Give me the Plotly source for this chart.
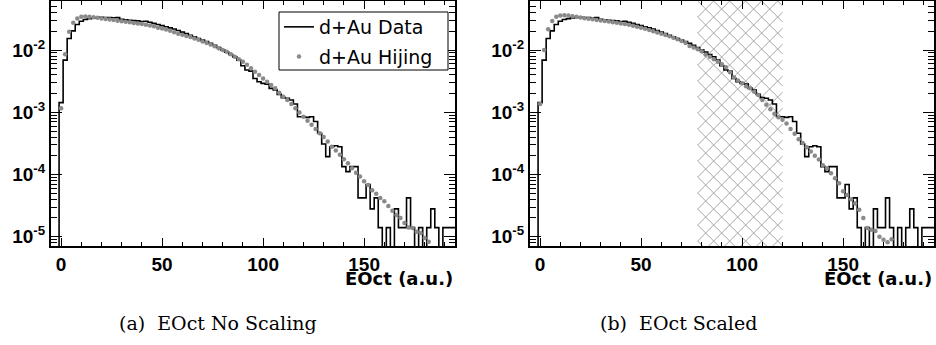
import math
import plotly.graph_objects as go

# ---------------- data ----------------
bin_width = 2
eoct_centers = list(range(-4, 196, 2))  # 100 bins, -5 .. 195

data_vals = [
    0, 0, 1.43e-3, 6.9e-3, 1.54e-2, 2.04e-2, 2.58e-2, 2.92e-2, 3.10e-2, 3.21e-2,
    3.30e-2, 3.35e-2, 3.36e-2, 3.35e-2, 3.33e-2, 3.31e-2, 3.33e-2, 3.12e-2, 3.07e-2, 3.03e-2,
    2.99e-2, 2.95e-2, 2.88e-2, 2.92e-2, 2.81e-2, 2.69e-2, 2.58e-2, 2.48e-2, 2.38e-2, 2.28e-2,
    2.19e-2, 2.07e-2, 1.95e-2, 1.84e-2, 1.73e-2, 1.64e-2, 1.54e-2, 1.45e-2, 1.37e-2, 1.29e-2,
    1.20e-2, 1.10e-2, 1.01e-2, 9.3e-3, 8.5e-3, 7.8e-3, 6.9e-3, 5.6e-3, 4.8e-3, 4.6e-3,
    3.5e-3, 3.1e-3, 2.92e-3, 2.84e-3, 2.43e-3, 2.28e-3, 1.94e-3, 1.72e-3, 1.68e-3, 1.58e-3,
    1.36e-3, 8.5e-4, 8.5e-4, 8.3e-4, 8.5e-4, 7.1e-4, 4.6e-4, 3.1e-4, 1.94e-4, 2.8e-4,
    2.9e-4, 2.8e-4, 1.34e-4, 1.11e-4, 1.34e-4, 1.34e-4, 4.2e-5, 4.2e-5, 6.9e-5, 2.8e-5,
    4.2e-5, 1.4e-5, 0, 1.4e-5, 0, 2.8e-5, 1.4e-5, 1.4e-5, 4.2e-5, 1.4e-5,
    0, 1.4e-5, 0, 1.4e-5, 2.8e-5, 1.4e-5, 0, 1.4e-5, 1.4e-5, 1.4e-5,
]

hijing_a_x = list(range(0, 184, 2))
hijing_a_vals = [
    1.16e-3, 8.6e-3, 1.97e-2, 2.75e-2, 3.23e-2, 3.43e-2, 3.47e-2, 3.43e-2, 3.39e-2, 3.31e-2,
    3.24e-2, 3.17e-2, 3.10e-2, 3.04e-2, 2.98e-2, 2.92e-2, 2.86e-2, 2.80e-2, 2.74e-2, 2.69e-2,
    2.63e-2, 2.57e-2, 2.50e-2, 2.43e-2, 2.30e-2, 2.22e-2, 2.15e-2, 2.05e-2, 1.94e-2, 1.84e-2,
    1.77e-2, 1.69e-2, 1.62e-2, 1.54e-2, 1.47e-2, 1.38e-2, 1.30e-2, 1.23e-2, 1.15e-2, 1.07e-2,
    1.00e-2, 9.4e-3, 8.6e-3, 7.8e-3, 7.1e-3, 6.5e-3, 5.8e-3, 5.1e-3, 4.5e-3, 3.98e-3,
    3.5e-3, 3.1e-3, 2.75e-3, 2.43e-3, 2.07e-3, 1.78e-3, 1.58e-3, 1.36e-3, 1.16e-3, 9.9e-4,
    8.5e-4, 7.3e-4, 6.3e-4, 5.4e-4, 4.6e-4, 4.0e-4, 3.4e-4, 2.8e-4, 2.43e-4, 2.07e-4,
    1.76e-4, 1.51e-4, 1.26e-4, 1.07e-4, 9.3e-5, 7.8e-5, 6.8e-5, 5.6e-5, 4.9e-5, 4.2e-5,
    3.7e-5, 3.1e-5, 2.6e-5, 2.24e-5, 2.0e-5, 1.66e-5, 1.41e-5, 1.38e-5, 1.2e-5, 1.15e-5,
    9.5e-6, 8.3e-6,
]

hijing_b_x = list(range(0, 176, 2))
hijing_b_vals = [
    1.36e-3, 1.0e-2, 2.17e-2, 2.95e-2, 3.43e-2, 3.60e-2, 3.65e-2, 3.60e-2, 3.52e-2, 3.43e-2,
    3.34e-2, 3.27e-2, 3.20e-2, 3.13e-2, 3.06e-2, 3.00e-2, 2.94e-2, 2.88e-2, 2.82e-2, 2.76e-2,
    2.69e-2, 2.62e-2, 2.55e-2, 2.47e-2, 2.38e-2, 2.29e-2, 2.20e-2, 2.11e-2, 2.02e-2, 1.92e-2,
    1.84e-2, 1.75e-2, 1.67e-2, 1.58e-2, 1.50e-2, 1.40e-2, 1.30e-2, 1.16e-2, 1.10e-2, 1.03e-2,
    9.6e-3, 8.5e-3, 7.8e-3, 7.1e-3, 6.5e-3, 5.9e-3, 5.3e-3, 4.4e-3, 3.65e-3, 3.24e-3,
    2.92e-3, 2.63e-3, 2.43e-3, 2.14e-3, 1.90e-3, 1.58e-3, 1.32e-3, 1.12e-3, 9.5e-4, 8.3e-4,
    7.6e-4, 6.6e-4, 5.4e-4, 4.5e-4, 3.7e-4, 3.2e-4, 2.75e-4, 2.34e-4, 2.0e-4, 1.74e-4,
    1.41e-4, 1.26e-4, 1.05e-4, 8.7e-5, 7.2e-5, 5.4e-5, 4.7e-5, 4.0e-5, 3.4e-5, 2.7e-5,
    2.0e-5, 1.38e-5, 1.29e-5, 1.23e-5, 1.0e-5, 8.9e-6, 8.1e-6, 9.1e-6,
]

hatch_range = [78, 120]

x_ticks = [0, 50, 100, 150]
y_ticks = [1e-5, 1e-4, 1e-3, 1e-2]
y_ticktext = ["<b>10<sup>-5</sup></b>", "<b>10<sup>-4</sup></b>",
              "<b>10<sup>-3</sup></b>", "<b>10<sup>-2</sup></b>"]
captions = ["(a)  EOct No Scaling", "(b)  EOct Scaled"]
x_title = "EOct (a.u.)"
legend_names = ["d+Au Data", "d+Au Hijing"]

# ---------------- layout geometry (pixels) ----------------
W, H = 936, 345
FONT = "Liberation Sans"
X_RANGE = [-5, 195]
PLOT_TOP, PLOT_BOT = 1, 246
PANEL_A = (51, 455)
PANEL_B = (530, 934)

edges = [c - bin_width / 2 for c in eoct_centers] + [eoct_centers[-1] + bin_width / 2]
floor = 1e-9
step_y = [v if v > 0 else floor for v in data_vals]
step_y = step_y + [step_y[-1]]

minor_y = [k * 10.0 ** e for e in range(-6, -1) for k in range(2, 10)]

fig = go.Figure()

for i, (hx, hv) in enumerate([(hijing_a_x, hijing_a_vals), (hijing_b_x, hijing_b_vals)]):
    xa = "x" if i == 0 else "x2"
    ya = "y" if i == 0 else "y2"
    fig.add_trace(go.Scatter(
        x=edges, y=step_y, mode="lines", line=dict(color="black", width=1.6, shape="hv"),
        name=legend_names[0], showlegend=(i == 0), legendgroup="data",
        xaxis=xa, yaxis=ya))
    fig.add_trace(go.Scatter(
        x=hx, y=hv, mode="markers", marker=dict(color="#8a8a8a", size=4.5),
        name=legend_names[1], showlegend=(i == 0), legendgroup="hij",
        xaxis=xa, yaxis=ya))

# ---- cross-hatched band in panel (b): two families of slanted lines clipped to the band ----
ppu = (PANEL_B[1] - PANEL_B[0]) / (X_RANGE[1] - X_RANGE[0])
def to_px(x):
    return PANEL_B[0] + (x - X_RANGE[0]) * ppu
def to_data(px):
    return X_RANGE[0] + (px - PANEL_B[0]) / ppu
def to_dom(py):
    return (PLOT_BOT - py) / (PLOT_BOT - PLOT_TOP)

X0, X1 = to_px(hatch_range[0]), to_px(hatch_range[1])
Y0, Y1 = PLOT_TOP, PLOT_BOT
spacing, slope = 16.0, 1.0
for s in (slope, -slope):
    anchor = Y0 - s * X0
    cmin = min(Y0 - s * X0, Y0 - s * X1)
    cmax = max(Y1 - s * X0, Y1 - s * X1)
    step = abs(s) * spacing
    k0 = math.floor((cmin - anchor) / step)
    k1 = math.ceil((cmax - anchor) / step)
    for k in range(k0, k1 + 1):
        c = anchor + k * step
        xa_, xb_ = (Y0 - c) / s, (Y1 - c) / s
        lo, hi = max(X0, min(xa_, xb_)), min(X1, max(xa_, xb_))
        if hi - lo < 0.5:
            continue
        fig.add_shape(type="line", xref="x2", yref="y2 domain",
                      x0=to_data(lo), y0=to_dom(s * lo + c),
                      x1=to_data(hi), y1=to_dom(s * hi + c),
                      line=dict(color="#a6a6a6", width=1), layer="below")

axis_common_x = dict(
    range=X_RANGE, tickmode="array", tickvals=x_ticks,
    ticks="inside", ticklen=8, tickwidth=1.2, tickcolor="black",
    minor=dict(ticks="inside", ticklen=4, tickwidth=1, tickcolor="black", dtick=10, tick0=0, showgrid=False),
    showline=True, linecolor="black", linewidth=2, mirror="allticks",
    showgrid=False, zeroline=False, automargin=False,
    tickfont=dict(family=FONT, size=19, color="black", weight="bold"),
)
axis_common_y = dict(
    type="log", range=[-5.15, -1.21], tickmode="array", tickvals=y_ticks, ticktext=y_ticktext,
    ticks="inside", ticklen=11, tickwidth=1.2, tickcolor="black",
    minor=dict(ticks="inside", ticklen=6, tickwidth=1, tickcolor="black",
               tickmode="array", tickvals=minor_y, showgrid=False),
    showline=True, linecolor="black", linewidth=2, mirror="allticks",
    showgrid=False, zeroline=False, automargin=False,
    tickfont=dict(family=FONT, size=19, color="black"),
)

ydom = [1 - PLOT_BOT / H, 1 - PLOT_TOP / H]
fig.update_layout(
    width=W, height=H, margin=dict(l=0, r=0, t=0, b=0),
    paper_bgcolor="white", plot_bgcolor="white",
    xaxis=dict(domain=[PANEL_A[0] / W, PANEL_A[1] / W], anchor="y", **axis_common_x),
    yaxis=dict(domain=ydom, anchor="x", **axis_common_y),
    xaxis2=dict(domain=[PANEL_B[0] / W, PANEL_B[1] / W], anchor="y2", **axis_common_x),
    yaxis2=dict(domain=ydom, anchor="x2", **axis_common_y),
    legend=dict(x=279 / W, y=1 - 8 / H, xanchor="left", yanchor="top",
                borderwidth=0, bgcolor="rgba(0,0,0,0)",
                font=dict(family="DejaVu Sans", size=19, color="black"),
                itemwidth=30, tracegroupgap=2, traceorder="grouped"),
    showlegend=True,
)

# legend frame
fig.add_shape(type="rect", xref="paper", yref="paper",
              x0=279 / W, x1=448 / W, y0=1 - 70 / H, y1=1 - 12 / H,
              line=dict(color="black", width=1), fillcolor="white", layer="above")

for xr in (PANEL_A[1], PANEL_B[1]):
    fig.add_annotation(x=xr / W, y=1 - 278 / H, xref="paper", yref="paper",
                       xanchor="right", yanchor="middle", showarrow=False,
                       text="<b>" + x_title + "</b>",
                       font=dict(family="DejaVu Sans", size=18, color="black"))

for cx, txt in zip((218, 678), captions):
    fig.add_annotation(x=cx / W, y=1 - 323 / H, xref="paper", yref="paper",
                       xanchor="center", yanchor="middle", showarrow=False,
                       text=txt, font=dict(family="DejaVu Serif", size=19, color="black"))

fig.write_html("out.html", config=dict(displayModeBar=False),
               post_script="document.body.style.margin='0';"
                           "document.documentElement.style.overflow='hidden';")
